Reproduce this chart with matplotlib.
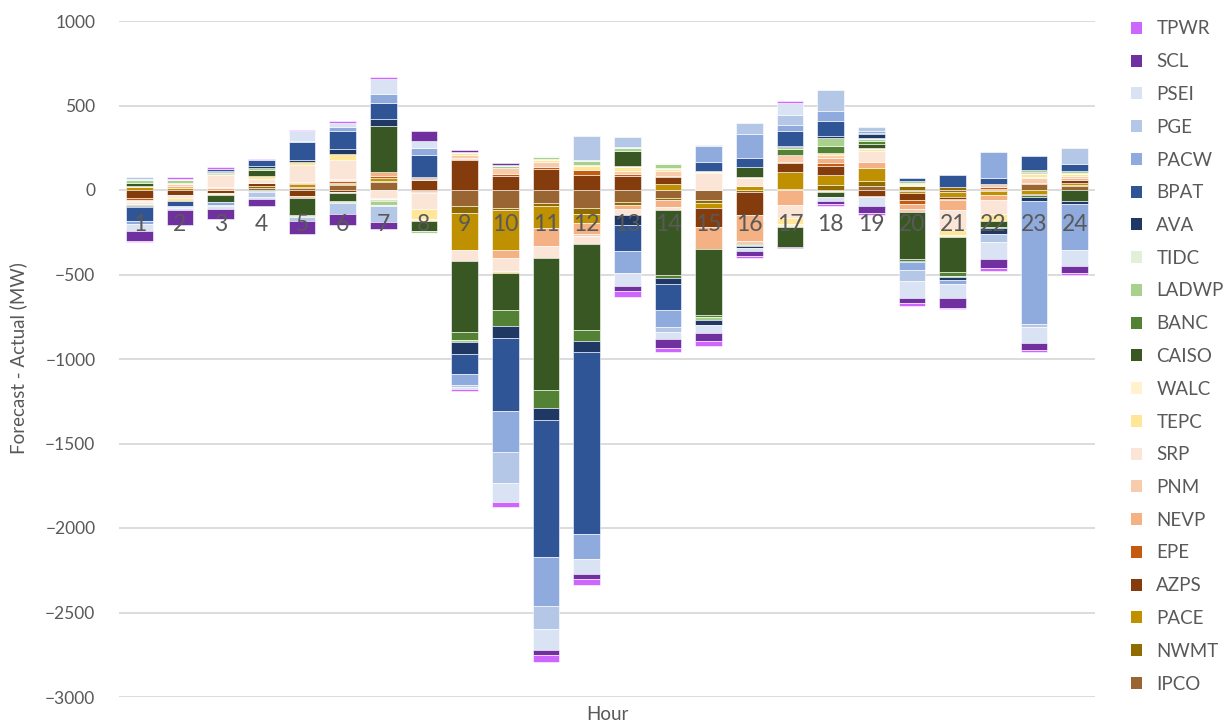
import numpy as np
import matplotlib
matplotlib.use("Agg")
import matplotlib.pyplot as plt
from matplotlib.patches import Patch

plt.rcParams["font.family"] = ["Lato", "DejaVu Sans"]

hours = list(range(1, 25))

# Forecast minus actual load (MW) per balancing authority, hours 1-24
IPCO  = [0, 0, 0, 14, 10, 28, 46, 0, -92, -108, -75, -104, -71, -47, -57, 0, 0, -8, 24, -6, -12, -4, 38, 26]
NWMT  = [0, 0, 0, 12, 6, 8, 6, 0, -45, -8, -19, -39, -20, -10, -20, -14, 8, 30, 30, 24, 18, 8, 0, 4]
PACE  = [15, 14, 0, 0, 18, 8, 18, -6, -216, -238, -128, -50, 0, 36, -30, 26, 96, 56, 76, -12, -30, -26, -24, 12]
AZPS  = [-45, -30, -20, 14, -33, -10, 0, 60, 176, 84, 124, 86, 80, 39, -114, -132, 53, 56, -38, -44, -14, 0, -4, 20]
EPE   = [-14, 0, 0, 3, 8, 8, 12, -6, 8, 8, 10, 30, 14, 8, 0, 0, 6, 16, -4, -20, -4, 12, 6, 0]
NEVP  = [-8, 10, 10, 0, 4, 8, 24, -4, 8, -51, -108, -68, -20, -45, -126, -158, -88, 30, 38, -30, -56, -30, 0, 8]
PNM   = [-6, 12, 10, 0, -12, 8, 0, 10, 18, 38, 34, -14, 16, 30, 0, -16, 43, 20, 0, -18, 0, 16, 26, 14]
SRP   = [-8, -16, 70, 22, 100, 110, -48, -98, -65, -73, -75, -45, -39, -14, 98, 46, -78, -6, 62, 8, -120, -84, 4, 0]
TEPC  = [8, -18, 4, 18, 18, 36, -6, -58, 10, -13, 10, 26, 24, 10, 8, 4, -38, 10, 14, 0, -30, -38, 22, 10]
WALC  = [-6, 4, -8, 0, 0, -10, -4, -10, 4, 0, 4, 6, 6, 6, 4, 0, -12, 0, 4, 8, -10, 0, 4, 8]
CAISO = [20, 0, -45, 38, -104, -45, 272, -58, -420, -217, -781, -506, 90, -389, -390, 58, -124, -30, 24, -276, -210, -38, 8, -64]
BANC  = [-10, 0, 8, -8, -4, -4, -6, -4, -47, -94, -104, -67, 0, -16, -16, -8, 37, 44, 20, -12, -24, -4, -12, -4]
LADWP = [15, 20, 4, 8, -4, -8, -26, -8, -15, 12, 16, 26, 18, 26, -14, -4, 14, 44, 10, 12, -4, 0, 8, 12]
TIDC  = [6, 6, 0, 0, 0, 0, -4, -4, 0, 4, 4, 4, 4, 4, 0, 0, 0, 4, 4, 4, 0, 0, 0, 0]
AVA   = [-6, 0, 4, 14, 12, 26, 40, 4, -69, -75, -73, -63, -55, -33, -30, -10, 4, 10, 24, -8, -20, -38, -28, -14]
BPAT  = [-79, -30, 16, 34, 108, 108, 98, 135, -120, -433, -806, -1081, -157, -157, 53, 58, 88, 86, 6, 14, 72, 36, 86, 38]
PACW  = [-18, -8, -18, -6, 8, 26, 52, 38, -63, -242, -295, -148, -128, -98, 96, 140, 34, 62, 16, -45, -24, 154, -722, -272]
PGE   = [12, -6, -6, -30, -28, -66, -98, 4, -14, -184, -132, 140, 62, -30, 6, 62, 59, 124, 18, -68, 0, -44, -20, 96]
PSEI  = [-43, -10, -14, -8, 56, 22, 86, 40, -14, -108, -124, -88, -79, -43, -49, -20, 72, -20, -50, -98, -80, -100, -98, -98]
SCL   = [-59, -92, -60, -45, -74, -66, -40, 58, 10, 12, -29, -30, -30, -51, -49, -30, -6, -20, -44, -33, -58, -58, -40, -42]
TPWR  = [-6, 8, 8, 8, 6, 10, 12, 0, -12, -32, -44, -33, -35, -28, -31, -10, 10, -10, -12, -14, -8, -14, -10, -10]

series = [
    ("IPCO", IPCO, "#996633"),
    ("NWMT", NWMT, "#8F6B00"),
    ("PACE", PACE, "#BF9000"),
    ("AZPS", AZPS, "#843C0C"),
    ("EPE", EPE, "#C55A11"),
    ("NEVP", NEVP, "#F4B183"),
    ("PNM", PNM, "#F8CBAD"),
    ("SRP", SRP, "#FBE5D6"),
    ("TEPC", TEPC, "#FFE699"),
    ("WALC", WALC, "#FFF2CC"),
    ("CAISO", CAISO, "#385723"),
    ("BANC", BANC, "#548235"),
    ("LADWP", LADWP, "#A9D18E"),
    ("TIDC", TIDC, "#E2F0D9"),
    ("AVA", AVA, "#203864"),
    ("BPAT", BPAT, "#2F5597"),
    ("PACW", PACW, "#8FAADC"),
    ("PGE", PGE, "#B4C7E7"),
    ("PSEI", PSEI, "#DAE3F3"),
    ("SCL", SCL, "#7030A0"),
    ("TPWR", TPWR, "#CC66FF"),
]

W, H = 1228, 725
fig = plt.figure(figsize=(W / 100, H / 100), dpi=100)
ax = fig.add_axes([119 / W, 1 - 697 / H, (1095 - 119) / W, (697 - 21) / H])

x = np.array(hours)
pos_base = np.zeros(len(hours))
neg_base = np.zeros(len(hours))
for name, vals, col in series:
    v = np.array(vals, dtype=float)
    up = v > 0
    dn = v < 0
    if up.any():
        ax.bar(x[up], v[up], bottom=pos_base[up], width=0.65, color=col,
               edgecolor="white", linewidth=0.4, zorder=1)
    if dn.any():
        ax.bar(x[dn], v[dn], bottom=neg_base[dn], width=0.65, color=col,
               edgecolor="white", linewidth=0.4, zorder=1)
    pos_base += np.where(up, v, 0)
    neg_base += np.where(dn, v, 0)

yticks = list(range(-3000, 1001, 500))
for yt in yticks:
    ax.axhline(yt, color="#D9D9D9", linewidth=1.3, zorder=0)

ax.set_xlim(0.5, 24.5)
ax.set_ylim(-3000, 1000)
ax.set_yticks(yticks)
ax.set_xticks(hours)
ax.set_xticklabels([str(h) for h in hours])
for s in ax.spines.values():
    s.set_visible(False)
ax.spines["bottom"].set_position(("data", 0))
ax.tick_params(axis="x", length=0, pad=17.5, labelsize=16.5, labelcolor="#595959")
ax.tick_params(axis="y", length=0, pad=17, labelsize=12.5, labelcolor="#595959")

fig.text(18 / W, 1 - 358 / H, "Forecast - Actual (MW)", rotation=90,
         ha="center", va="center", fontsize=13.5, color="#595959")
fig.text(607 / W, 1 - 714 / H, "Hour", ha="center", va="center",
         fontsize=13.5, color="#595959")

handles = [Patch(facecolor=col, edgecolor="none", label=name) for name, _, col in series][::-1]
fig.legend(handles=handles, loc="center left", bbox_to_anchor=(1131 / W, 1 - 356.5 / H),
           frameon=False, fontsize=13.5, labelcolor="#595959", borderpad=0,
           borderaxespad=0, handlelength=0.6, handleheight=0.6, handletextpad=0.75,
           labelspacing=0.84)

fig.savefig("out.png", dpi=100)
